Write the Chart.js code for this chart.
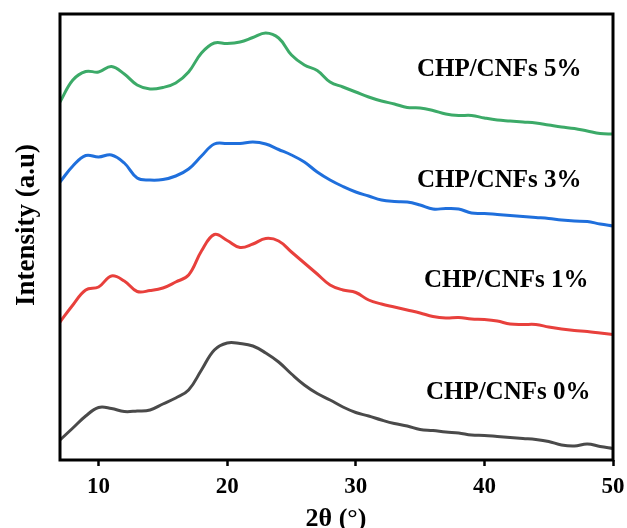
<!DOCTYPE html>
<html>
<head>
<meta charset="utf-8">
<title>XRD CHP/CNFs</title>
<script src="https://cdn.jsdelivr.net/npm/chart.js@4.4.1/dist/chart.umd.min.js"></script>
<style>
  html, body { margin: 0; padding: 0; background: #fff; }
  #wrap { width: 627px; height: 528px; }
</style>
</head>
<body>
<div id="wrap"><canvas id="xrdChart" width="627" height="528"></canvas></div>
<script>
// 2-theta grid (degrees) shared by all patterns
const twoTheta = [7, 8, 9, 10, 11, 12, 13, 14, 15, 16, 17, 18, 19, 20, 21, 22, 23, 24, 25, 26, 27, 28,
  29, 30, 31, 32, 33, 34, 35, 36, 37, 38, 39, 40, 41, 42, 43, 44, 45, 46, 47, 48, 49, 50];

// intensities, already stacked with an offset (a.u.)
const cnf0 = [20, 32, 44, 52.5, 51.5, 48.5, 49, 50, 56, 62, 70, 90, 110, 117, 116.5, 114, 107, 98, 86, 75,
  66.5, 60, 53, 47.5, 44, 40, 36.5, 34, 30.5, 29.5, 28, 27, 25, 24.5, 23.5, 22.5, 21.5, 20.5, 18.5, 15, 14, 16, 13.5, 11.5];
const cnf1 = [138, 155, 170, 173, 184, 179, 168.5, 169.5, 172, 178, 185, 209, 225.5, 219.5, 212.5, 216, 221.5, 219, 208, 197,
  186, 175, 170, 167.5, 160, 156, 153, 150, 147, 143.5, 142, 142.5, 141, 140.5, 139, 136, 135.5, 135.5, 133, 131, 129.5, 128.5, 127, 125.5];
const cnf3 = [278, 294, 304.5, 303, 305, 297, 282, 280, 280.5, 284, 291, 304, 316, 316.5, 316.5, 318, 316, 310.5, 305, 298,
  288, 280, 273.5, 268, 264, 260, 258.5, 258, 255, 251, 251.5, 251, 247, 246.5, 245.5, 244.5, 243.5, 242.5, 241.5, 240, 239, 238.5, 236, 234];
const cnf5 = [358, 380, 388.5, 388, 393.5, 386, 375, 371, 372.5, 377, 388, 407, 417, 416.5, 418, 422.5, 427, 422, 405, 395,
  389.5, 378, 373, 368, 363, 359, 356, 352.5, 352, 349.5, 346, 344.5, 344.5, 342, 340, 339, 338, 337, 335, 333, 331.5, 329, 326.5, 326];

const sampleNames = ['CHP/CNFs 0%', 'CHP/CNFs 1%', 'CHP/CNFs 3%', 'CHP/CNFs 5%'];
const xTicks = [10, 20, 30, 40, 50];
const xTitle = '2θ (°)';
const yTitle = 'Intensity (a.u)';

const colors = ['#4a4a4a', '#e8403c', '#1f6fdc', '#3caa68'];
// where each sample name sits: left edge (2θ) and baseline (a.u.)
const nameX = [35.45, 35.3, 34.75, 34.75];
const nameY = [61, 173, 273, 384];

const serif = "'Liberation Serif', 'Times New Roman', serif";

const series = [cnf0, cnf1, cnf3, cnf5];
const datasets = series.map((vals, i) => ({
  label: sampleNames[i],
  data: twoTheta.map((t, j) => ({ x: t, y: vals[j] })),
  borderColor: colors[i],
  borderWidth: 3,
  pointRadius: 0,
  tension: 0.4,
  fill: false
}));

// black box round the plot, axis titles, sample names next to their curves
const frameAndNames = {
  id: 'frameAndNames',
  afterDatasetsDraw(chart) {
    const { ctx, chartArea: a, scales } = chart;
    ctx.save();
    ctx.strokeStyle = '#000';
    ctx.lineWidth = 3;
    ctx.strokeRect(a.left, a.top, a.right - a.left, a.bottom - a.top);

    ctx.fillStyle = '#000';
    ctx.font = 'bold 25px ' + serif;
    ctx.textAlign = 'left';
    ctx.textBaseline = 'alphabetic';
    sampleNames.forEach((name, i) => {
      ctx.fillText(name, scales.x.getPixelForValue(nameX[i]), scales.y.getPixelForValue(nameY[i]));
    });

    // x title under the tick labels
    ctx.font = 'bold 26px ' + serif;
    ctx.textAlign = 'center';
    ctx.fillText(xTitle, 336, 526);

    // y title, rotated, a bit above the middle of the axis
    ctx.translate(27, 225);
    ctx.rotate(-Math.PI / 2);
    ctx.font = 'bold 27px ' + serif;
    ctx.textBaseline = 'middle';
    ctx.fillText(yTitle, 0, 0);
    ctx.restore();
  }
};

new Chart(document.getElementById('xrdChart'), {
  type: 'line',
  data: { datasets },
  plugins: [frameAndNames],
  options: {
    responsive: false,
    animation: false,
    layout: { padding: { top: 14, right: 14, left: 0, bottom: 0 } },
    plugins: { legend: { display: false }, tooltip: { enabled: false } },
    scales: {
      x: {
        type: 'linear',
        min: 7,
        max: 50,
        afterBuildTicks: s => { s.ticks = xTicks.map(v => ({ value: v })); },
        afterFit: s => { s.height = 68; s.paddingLeft = 0; s.paddingRight = 0; },
        border: { display: false },
        grid: { drawOnChartArea: false, drawTicks: true, tickLength: 6, tickWidth: 2.5, tickColor: '#000' },
        ticks: { color: '#000', padding: 7, font: { family: serif, size: 23, weight: 'bold' } }
      },
      y: {
        min: 0,
        max: 446,
        afterFit: s => { s.width = 60; },
        border: { display: false },
        grid: { display: false },
        ticks: { display: false }
      }
    }
  }
});
</script>
</body>
</html>
